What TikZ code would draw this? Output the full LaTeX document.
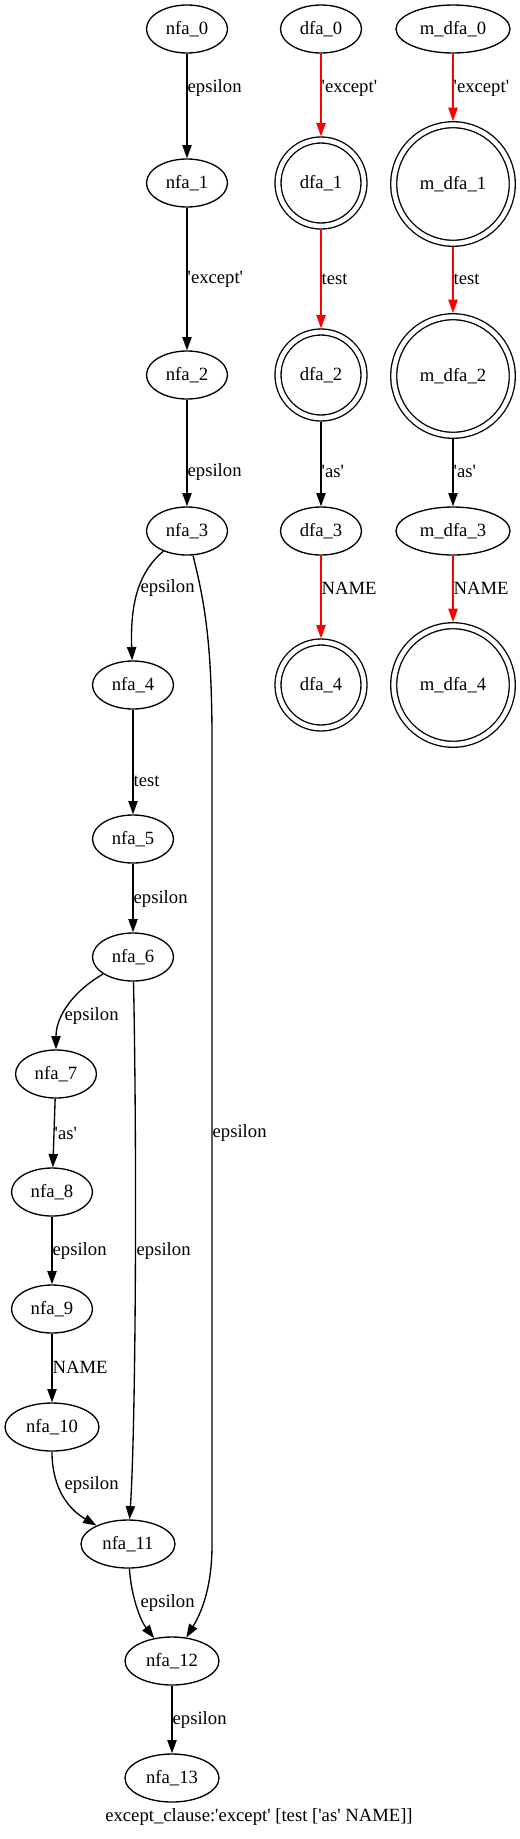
\documentclass[tikz,border=0pt]{standalone}
\usepackage{fontspec}
\newfontfamily\gv{Liberation Serif}
\usetikzlibrary{shapes.geometric,arrows.meta}
\begin{document}
\begin{tikzpicture}[x=0.75pt,y=-0.75pt,
  every node/.style={font=\gv\fontsize{14}{16}\selectfont},
  st/.style={ellipse,draw,line width=1pt,minimum width=60.75pt,minimum height=36pt,inner sep=0pt},
  stw/.style={st,minimum width=70.5pt},
  stm/.style={st,minimum width=85.5pt},
  acc/.style={circle,draw,line width=1pt,double,double distance=3.5pt,minimum size=64.5pt,inner sep=0pt,outer sep=2.75pt},
  accm/.style={acc,minimum size=88.9pt},
  tr/.style={line width=1pt,-{Triangle[length=10pt,width=7pt]}},
  hot/.style={tr,draw=red},
  lbl/.style={anchor=west,inner sep=0pt,text=black}]
\useasboundingbox (0,0) rectangle (520,1839);

% NFA column
\node[st]  (nfa_0)  at (187,29)   {nfa\_0};
\node[st]  (nfa_1)  at (187,183)  {nfa\_1};
\node[st]  (nfa_2)  at (187,375)  {nfa\_2};
\node[st]  (nfa_3)  at (187,531)  {nfa\_3};
\node[st]  (nfa_4)  at (133,685)  {nfa\_4};
\node[st]  (nfa_5)  at (133,839)  {nfa\_5};
\node[st]  (nfa_6)  at (133,957)  {nfa\_6};
\node[st]  (nfa_7)  at (56,1074)  {nfa\_7};
\node[st]  (nfa_8)  at (52,1192)  {nfa\_8};
\node[st]  (nfa_9)  at (52,1309)  {nfa\_9};
\node[stw] (nfa_10) at (52,1427)  {nfa\_10};
\node[stw] (nfa_11) at (128,1544) {nfa\_11};
\node[stw] (nfa_12) at (172,1661) {nfa\_12};
\node[stw] (nfa_13) at (172,1778) {nfa\_13};

% DFA column
\node[st]  (dfa_0) at (321,29)  {dfa\_0};
\node[acc] (dfa_1) at (321,183) {dfa\_1};
\node[acc] (dfa_2) at (321,375) {dfa\_2};
\node[st]  (dfa_3) at (321,531) {dfa\_3};
\node[acc] (dfa_4) at (321,685) {dfa\_4};

% minimised DFA column
\node[stm]  (m_dfa_0) at (453,29)  {m\_dfa\_0};
\node[accm] (m_dfa_1) at (453,184) {m\_dfa\_1};
\node[accm] (m_dfa_2) at (453,376) {m\_dfa\_2};
\node[stm]  (m_dfa_3) at (453,531) {m\_dfa\_3};
\node[accm] (m_dfa_4) at (453,685) {m\_dfa\_4};

% NFA edges
\draw[tr] (nfa_0) -- node[lbl,pos=0.33] {epsilon} (nfa_1);
\draw[tr] (nfa_1) -- node[lbl,pos=0.5] {'except'} (nfa_2);
\draw[tr] (nfa_2) -- node[lbl,pos=0.68] {epsilon} (nfa_3);
\draw[tr] (nfa_3) .. controls (140,571) and (130,600) .. (nfa_4)
  node[lbl,at={(140,588)}] {epsilon};
\draw[tr] (nfa_3) .. controls (204,600) and (212,640) .. (212,740)
  -- (212,1545) .. controls (212,1590) and (200,1615) .. (nfa_12)
  node[lbl,at={(212,1133)}] {epsilon};
\draw[tr] (nfa_4) -- node[lbl,pos=0.68] {test} (nfa_5);
\draw[tr] (nfa_5) -- node[lbl,pos=0.51] {epsilon} (nfa_6);
\draw[tr] (nfa_6) .. controls (75,990) and (56,1015) .. (nfa_7)
  node[lbl,at={(64,1016)}] {epsilon};
\draw[tr] (nfa_6) .. controls (137,1150) and (136,1420) .. (nfa_11)
  node[lbl,at={(136,1251)}] {epsilon};
\draw[tr] (nfa_7) -- node[lbl,pos=0.5] {'as'} (nfa_8);
\draw[tr] (nfa_8) -- node[lbl,pos=0.51] {epsilon} (nfa_9);
\draw[tr] (nfa_9) -- node[lbl,pos=0.49] {NAME} (nfa_10);
\draw[tr] (nfa_10) .. controls (52,1490) and (70,1510) .. (nfa_11)
  node[lbl,at={(64,1485)}] {epsilon};
\draw[tr] (nfa_11) .. controls (131,1595) and (140,1620) .. (nfa_12)
  node[lbl,at={(140,1603)}] {epsilon};
\draw[tr] (nfa_12) -- node[lbl,pos=0.5] {epsilon} (nfa_13);

% DFA edges
\draw[hot] (dfa_0) -- node[lbl,pos=0.42] {'except'} (dfa_1);
\draw[hot] (dfa_1) -- node[lbl,pos=0.5] {test} (dfa_2);
\draw[tr]  (dfa_2) -- node[lbl,pos=0.59] {'as'} (dfa_3);
\draw[hot] (dfa_3) -- node[lbl,pos=0.39] {NAME} (dfa_4);

% minimised DFA edges
\draw[hot] (m_dfa_0) -- node[lbl,pos=0.51] {'except'} (m_dfa_1);
\draw[hot] (m_dfa_1) -- node[lbl,pos=0.49] {test} (m_dfa_2);
\draw[tr]  (m_dfa_2) -- node[lbl,pos=0.49] {'as'} (m_dfa_3);
\draw[hot] (m_dfa_3) -- node[lbl,pos=0.49] {NAME} (m_dfa_4);

% caption
\node (caption) at (259,1817) {except\_clause:'except' [test ['as' NAME]]};
\end{tikzpicture}
\end{document}
